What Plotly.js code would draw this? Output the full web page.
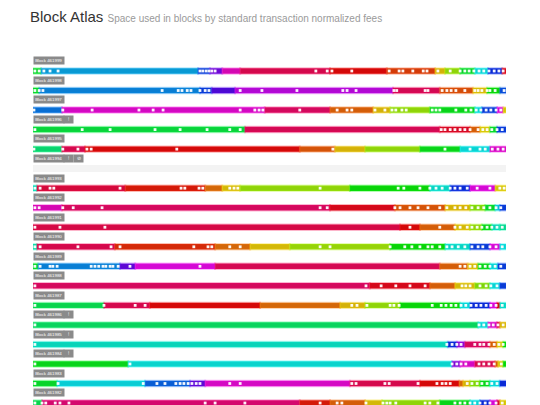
<!DOCTYPE html>
<html><head><meta charset="utf-8">
<script src="https://cdn.plot.ly/plotly-3.0.1.min.js"></script>
<style>html,body{margin:0;padding:0;background:#fff;}#chart{width:540px;height:405px;}</style>
</head><body><div id="chart"></div>
<script>
// Block numbers (top to bottom)
const blocks = ['461999','461998','461997','461996','461995','461994','461993','461992','461991','461990','461989','461988','461987','461986','461985','461984','461983','461982'];
// badges shown after each block label
const flags = [[],[],[],['!'],[],['!','⊘'],[],[],[],[],[],[],[],['!'],['!'],['!'],[],[]];

// Each block: segment end positions (% of block space), fee hue of each segment, transaction marks (%)
const ends0 = [1.7,34.9,37.4,40.0,43.8,62.8,74.8,85.0,87.1,90.3,93.4,96.2,99.2,100];
const hues0 = [130,197,225,270,310,340,0,15,50,80,130,180,230,355];
const dots0 = [0.4,1.3,2.3,3.6,5.3,35.3,35.9,36.6,37.2,37.8,38.5,59.8,62.2,63.2,67.4,75.3,77.4,78.2,80.3,82.5,83.3,85.6,88.2,90.3,91.3,92.2,93.2,94.3,95.3,96.4,97.5,98.5,99.4];

const ends1 = [1.3,35.3,37.8,42.7,76.1,86.0,93.0,96.0,98.7,100];
const hues1 = [130,205,225,260,290,338,20,52,120,220];
const dots1 = [0.4,1.3,2.1,27.3,30.7,31.5,32.6,33.4,35.3,36.4,37.2,43.8,48.4,55.8,65.5,66.4,68.3,76.3,76.9,82.9,83.5,86.5,87.5,88.4,89.4,91.3,93.4,94.1,94.9,96.0,96.6,97.7,99.6];

const ends2 = [6.1,49.0,62.8,71.9,75.5,83.9,93.4,94.9,98.1,99.4,100];
const hues2 = [210,305,335,25,50,80,125,180,225,300,55];
const dots2 = [0.2,6.3,12.5,22.4,25.4,27.5,43.8,46.9,47.8,48.6,56.4,64.3,66.4,67.4,72.3,74.4,75.9,76.7,78.0,78.9,84.4,85.2,86.0,89.4,91.5,92.6,93.7,94.7,95.8,96.8,97.9,98.9];

const ends3 = [44.8,86.0,92.4,94.5,96.6,98.1,100];
const hues3 = [135,338,352,25,55,130,225];
const dots3 = [0.4,10.4,16.3,25.8,31.1,36.8,41.6,43.8,86.3,87.1,88.2,89.2,90.3,91.3,92.4,94.1,95.1,96.0,97.0,98.1,99.2];

const ends4 = [6.1,11.0,56.4,63.8,70.2,81.8,90.3,96.6,100];
const hues4 = [150,340,0,22,50,80,125,180,305];
const dots4 = [0.2,6.3,9.5,11.4,12.3,30.4,63.4,87.1,92.4,94.5,95.6,97.1,98.3,99.4];

const ends5 = [];
const hues5 = [];
const dots5 = [];

const ends6 = [0.85,19.5,36.4,40.0,43.8,67.0,83.9,88.2,92.4,97.7,100];
const hues6 = [170,345,5,28,52,80,120,175,230,300,55];
const dots6 = [0.4,1.5,3.6,4.4,18.4,31.3,32.1,35.1,35.9,41.6,42.5,43.3,60.7,77.2,78.4,81.8,83.9,85.2,86.5,88.2,89.2,90.3,91.8,93.9,96.6,98.7,99.6];

const ends7 = [6.1,62.8,76.5,87.1,92.4,95.6,97.7,98.7,100];
const hues7 = [310,335,355,22,50,85,130,185,225];
const dots7 = [0.4,1.3,6.3,8.5,14.6,60.7,62.2,76.5,77.6,79.7,81.4,83.5,86.0,87.5,89.2,90.3,91.5,92.8,94.1,95.3,96.6,97.9,98.9];

const ends8 = [77.6,81.8,89.2,92.4,94.9,97.0,98.7,100];
const hues8 = [342,0,25,52,80,125,170,160];
const dots8 = [0.4,5.7,15.2,79.7,86.0,89.2,90.3,91.8,92.8,93.9,94.9,96.0,97.0,98.1,99.2];

const ends9 = [0.85,17.3,38.5,45.9,54.3,75.5,87.1,92.4,96.6,98.7,100];
const hues9 = [165,340,10,28,52,78,120,175,225,300,180];
const dots9 = [0.4,1.5,9.5,16.5,18.4,34.0,37.0,37.8,41.6,43.8,60.7,62.8,75.5,78.6,80.1,81.8,83.5,84.4,86.0,87.5,88.6,89.9,91.3,92.8,94.1,95.1,96.6,97.9,99.2];

const ends10 = [1.1,18.4,21.6,38.5,86.0,91.9,94.1,96.6,98.3,100];
const hues10 = [130,205,265,300,338,25,52,125,180,225];
const dots10 = [0.4,1.5,3.6,4.2,5.1,12.3,13.1,13.9,14.8,15.4,16.3,16.9,18.0,20.5,35.3,90.3,91.3,92.4,93.4,94.5,95.6,96.6,97.7,98.9];

const ends11 = [71.2,83.9,89.2,93.4,96.6,98.7,100];
const hues11 = [335,355,25,52,85,180,225];
const dots11 = [0.4,70.4,73.6,76.7,79.7,82.9,90.7,91.5,92.4,94.5,95.8,96.8,98.1];

const ends12 = [15.0,24.7,48.0,64.9,70.2,77.6,90.3,92.4,96.6,98.1,98.7,100];
const hues12 = [140,340,0,28,50,80,120,180,230,300,0,175];
const dots12 = [0.4,15.0,21.6,23.7,67.4,68.5,70.6,75.5,76.3,77.4,84.4,86.3,87.3,88.4,89.4,90.5,91.5,92.6,93.7,94.7,95.8,96.8,97.9,99.2];

const ends13 = [94.1,96.2,98.1,98.7,100];
const hues13 = [145,180,305,345,50];
const dots13 = [0.4,94.3,95.3,96.4,97.3,98.3,99.4];

const ends14 = [87.7,89.6,91.3,96.6,98.1,99.4,100];
const hues14 = [172,230,280,335,25,55,120];
const dots14 = [0.4,87.5,88.6,89.6,90.5,93.4,94.5,95.3,96.4,97.5,98.5,99.4];

const ends15 = [20.1,88.6,90.3,93.4,97.7,98.3,99.4,100];
const hues15 = [125,178,275,305,340,25,55,120];
const dots15 = [0.4,20.5,88.6,89.6,90.5,91.5,94.3,95.3,96.4,97.5,99.0];

const ends16 = [5.1,23.7,33.2,36.4,67.0,81.8,90.1,90.9,92.4,94.5,96.6,98.7,100];
const hues16 = [130,182,215,265,305,340,0,28,50,85,125,180,230];
const dots16 = [0.4,5.3,23.3,26.2,27.9,30.2,31.1,31.9,32.8,33.6,34.5,35.3,41.6,43.8,67.4,68.3,74.4,75.3,81.4,85.4,86.5,87.3,88.2,91.8,92.8,93.9,94.9,96.0,97.0,98.1];

const ends17 = [1.9,56.4,62.8,70.2,73.8,86.0,92.4,94.5,96.6,98.1,98.7,100];
const hues17 = [140,330,5,25,52,80,125,180,230,300,345,55];
const dots17 = [0.4,1.9,2.7,4.7,5.7,7.6,36.4,38.5,44.8,60.7,64.3,65.3,70.4,74.0,74.8,75.5,76.7,82.9,83.9,85.6,89.2,90.3,91.3,92.4,93.4,94.5,95.6,96.6,97.9,99.2];

const allEnds = [ends0,ends1,ends2,ends3,ends4,ends5,ends6,ends7,ends8,ends9,ends10,ends11,ends12,ends13,ends14,ends15,ends16,ends17];
const allHues = [hues0,hues1,hues2,hues3,hues4,hues5,hues6,hues7,hues8,hues9,hues10,hues11,hues12,hues13,hues14,hues15,hues16,hues17];
const allDots = [dots0,dots1,dots2,dots3,dots4,dots5,dots6,dots7,dots8,dots9,dots10,dots11,dots12,dots13,dots14,dots15,dots16,dots17];

const col = (h, a) => a === undefined ? `hsl(${h},92%,43%)` : `hsla(${h},92%,50%,${a})`;

const traces = [];
const annotations = [];
blocks.forEach((b, i) => {
  const ends = allEnds[i], hues = allHues[i];
  if (ends.length === 0) {
    traces.push({type:'bar', orientation:'h', y:[i], x:[100], base:[0], width:0.36,
      marker:{color:'#f3f3f3'}, hoverinfo:'skip', showlegend:false});
  } else {
    const starts = ends.map((e, k) => k === 0 ? 0 : ends[k-1]);
    traces.push({type:'bar', orientation:'h',
      y: ends.map(() => i),
      x: ends.map((e, k) => e - starts[k]),
      base: starts,
      width: 0.28,
      marker:{color: hues.map(h => col(h)), line:{width:2, color: hues.map(h => col(h, 0.3))}},
      hoverinfo:'skip', showlegend:false});
    traces.push({type:'scatter', mode:'markers', x: allDots[i], y: allDots[i].map(() => i),
      marker:{symbol:'square', size:2.8, color:'rgba(255,255,255,0.95)', line:{width:0}},
      hoverinfo:'skip', showlegend:false, cliponaxis:false});
  }
  annotations.push({x:0, y:i-0.52, xref:'x', yref:'y', xanchor:'left', yanchor:'middle', showarrow:false,
    text:'Block ' + b, font:{family:'Liberation Sans, Arial, sans-serif', size:4.4, color:'#fff'},
    bgcolor:'#8a8a8a', borderpad:1.2});
  flags[i].forEach((f, k) => {
    annotations.push({x:7.5 + k*2.2, y:i-0.52, xref:'x', yref:'y', xanchor:'center', yanchor:'middle', showarrow:false,
      text:f, font:{family:'Liberation Sans, Arial, sans-serif', size:4.5, color:'#fff'},
      bgcolor:'#8a8a8a', borderpad:1.2, width:7});
  });
});

const layout = {
  width:540, height:405,
  margin:{l:33, r:34, t:50, b:0, pad:0},
  paper_bgcolor:'#fff', plot_bgcolor:'#fff',
  barmode:'overlay', bargap:0,
  title:{text:'Block Atlas <span style="font-size:10px;color:#9a9a9a">Space used in blocks by standard transaction normalized fees</span>',
    x:30/540, xanchor:'left', xref:'container', y:1-17/405, yref:'container', yanchor:'middle',
    font:{family:'Liberation Sans, Arial, sans-serif', size:15, color:'#333'}},
  xaxis:{range:[0,100], visible:false, fixedrange:true},
  yaxis:{range:[17.1,-1.075], visible:false, fixedrange:true},
  annotations: annotations,
  showlegend:false
};

Plotly.newPlot('chart', traces, layout, {displayModeBar:false, staticPlot:true});
</script></body></html>
